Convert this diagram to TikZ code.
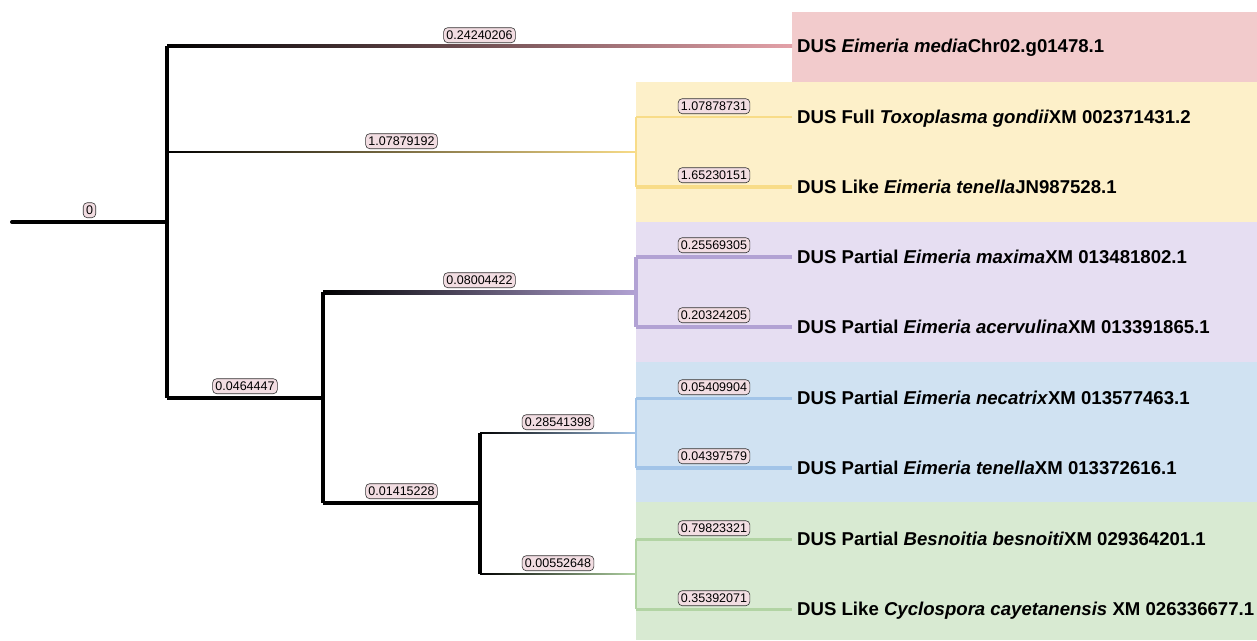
\documentclass[tikz,border=0pt]{standalone}
\usepackage{fontspec}
\setmainfont{Liberation Sans}
\usetikzlibrary{positioning,calc}

\definecolor{medbg}{HTML}{F2CBCC}
\definecolor{medline}{HTML}{E3A1A8}
\definecolor{toxbg}{HTML}{FDF0C9}
\definecolor{toxline}{HTML}{F8DC88}
\definecolor{maxbg}{HTML}{E6DEF2}
\definecolor{maxline}{HTML}{B2A2D4}
\definecolor{necbg}{HTML}{D0E2F2}
\definecolor{necline}{HTML}{A2C4E8}
\definecolor{besbg}{HTML}{D8EAD2}
\definecolor{besline}{HTML}{B2D4A4}
\definecolor{labfill}{HTML}{F2DDE2}

\tikzset{
  thickbr/.style={line width=4pt, black},
  brlabel/.style={draw=black!80, fill=labfill, text=black, line width=0.6pt,
    rounded corners=4pt, inner xsep=2.8pt, inner ysep=3pt,
    text height=9pt, text depth=0pt,
    font=\fontsize{12.5}{13}\selectfont, above=#1},
  brlabel/.default=3pt,
  leaflabel/.style={anchor=west, inner sep=5pt, text=black,
    text height=12.9pt, text depth=0pt,
    font=\fontsize{18.6}{20}\selectfont\bfseries},
}

\begin{document}
\begin{tikzpicture}[x=1pt, y=-1pt]
    \useasboundingbox (0,0) rectangle (1257,640);

    % Draw clade backgrounds
    \fill[medbg] (792,12) rectangle (1257,82);
    \fill[toxbg] (636,82) rectangle (1257,222);
    \fill[maxbg] (636,222) rectangle (1257,362);
    \fill[necbg] (636,362) rectangle (1257,502);
    \fill[besbg] (636,502) rectangle (1257,640);

    % Internal nodes
    \coordinate (root) at (12,222);
    \coordinate (nA) at (167,222);
    \coordinate (nB) at (323,398);
    \coordinate (nC) at (480,503);
    \coordinate (nTox) at (636,152);
    \coordinate (nMax) at (636,292);
    \coordinate (nNec) at (636,433);
    \coordinate (nBes) at (636,574);

    % Leaf tips
    \coordinate (lMed) at (792,46);
    \coordinate (lTox) at (792,117);
    \coordinate (lTen) at (792,187);
    \coordinate (lMax) at (792,257);
    \coordinate (lAce) at (792,327);
    \coordinate (lNec) at (792,398);
    \coordinate (lTnl) at (792,468);
    \coordinate (lBes) at (792,539);
    \coordinate (lCyc) at (792,609);

    % Draw backbone
    \draw[thickbr, line cap=round] (root) -- (nA);
    \draw[thickbr] (nA|-lMed) -- (nA|-nB);
    \draw[thickbr] (nA|-nB) -- (nB);
    \draw[thickbr] (nB|-nMax) -- (nB|-nC);
    \draw[thickbr] (nB|-nC) -- (nC);
    \draw[line width=3.5pt] (nC|-nNec) -- (nC|-nBes);

    % Draw fading branches into the clades
    \shade[left color=black, middle color=medline!40!black, right color=medline]
      ($(nA|-lMed)+(0,-1.1)$) rectangle ($(lMed)+(0,1.1)$);
    \shade[left color=black, middle color=toxline!40!black, right color=toxline]
      ($(nA|-nTox)+(0,-0.9)$) rectangle ($(nTox)+(0,0.9)$);
    \shade[left color=black, middle color=maxline!40!black, right color=maxline]
      ($(nB|-nMax)+(0,-2)$) rectangle ($(nMax)+(0,2)$);
    \shade[left color=black, middle color=necline!40!black, right color=necline]
      ($(nC|-nNec)+(0,-0.9)$) rectangle ($(nNec)+(0,0.9)$);
    \shade[left color=black, middle color=besline!40!black, right color=besline]
      ($(nC|-nBes)+(0,-0.9)$) rectangle ($(nBes)+(0,0.9)$);

    % Draw clade branches
    \draw[toxline, line width=2pt] (nTox|-lTox) -- (nTox|-lTen);
    \draw[toxline, line width=2pt] (nTox|-lTox) -- (lTox);
    \draw[toxline, line width=4pt] (nTox|-lTen) -- (lTen);
    \draw[maxline, line width=4pt] (nMax|-lMax) -- (nMax|-lAce);
    \draw[maxline, line width=4pt] (nMax|-lMax) -- (lMax);
    \draw[maxline, line width=4pt] (nMax|-lAce) -- (lAce);
    \draw[necline, line width=2.5pt] (nNec|-lNec) -- (nNec|-lTnl);
    \draw[necline, line width=3pt] (nNec|-lNec) -- (lNec);
    \draw[necline, line width=4pt] (nNec|-lTnl) -- (lTnl);
    \draw[besline, line width=2pt] (nBes|-lBes) -- (nBes|-lCyc);
    \draw[besline, line width=3pt] (nBes|-lBes) -- (lBes);
    \draw[besline, line width=3pt] (nBes|-lCyc) -- (lCyc);

    % Branch length labels
    \path (root) -- (nA) node[midway, brlabel=4pt] {0};
    \path (nA|-lMed) -- (lMed) node[midway, brlabel] {0.24240206};
    \path (nA|-nTox) -- (nTox) node[midway, brlabel] {1.07879192};
    \path (nA|-nB) -- (nB) node[midway, brlabel=4pt] {0.0464447};
    \path (nB|-nMax) -- (nMax) node[midway, brlabel=4pt] {0.08004422};
    \path (nB|-nC) -- (nC) node[midway, brlabel=4pt] {0.01415228};
    \path (nC|-nNec) -- (nNec) node[midway, brlabel] {0.28541398};
    \path (nC|-nBes) -- (nBes) node[midway, brlabel] {0.00552648};
    \path (nTox|-lTox) -- (lTox) node[midway, brlabel] {1.07878731};
    \path (nTox|-lTen) -- (lTen) node[midway, brlabel=4pt] {1.65230151};
    \path (nMax|-lMax) -- (lMax) node[midway, brlabel=4pt] {0.25569305};
    \path (nMax|-lAce) -- (lAce) node[midway, brlabel=4pt] {0.20324205};
    \path (nNec|-lNec) -- (lNec) node[midway, brlabel] {0.05409904};
    \path (nNec|-lTnl) -- (lTnl) node[midway, brlabel=4pt] {0.04397579};
    \path (nBes|-lBes) -- (lBes) node[midway, brlabel] {0.79823321};
    \path (nBes|-lCyc) -- (lCyc) node[midway, brlabel] {0.35392071};

    % Leaf names
    \node[leaflabel] (tMed) at (lMed) {DUS \textit{Eimeria media}Chr02.g01478.1};
    \node[leaflabel] (tTox) at (lTox) {DUS Full \textit{Toxoplasma gondii}XM 002371431.2};
    \node[leaflabel] (tTen) at (lTen) {DUS Like \textit{Eimeria tenella}JN987528.1};
    \node[leaflabel] (tMax) at (lMax) {DUS Partial \textit{Eimeria maxima}XM 013481802.1};
    \node[leaflabel] (tAce) at (lAce) {DUS Partial \textit{Eimeria acervulina}XM 013391865.1};
    \node[leaflabel] (tNec) at (lNec) {DUS Partial \textit{Eimeria necatrix}XM 013577463.1};
    \node[leaflabel] (tTnl) at (lTnl) {DUS Partial \textit{Eimeria tenella}XM 013372616.1};
    \node[leaflabel] (tBes) at (lBes) {DUS Partial \textit{Besnoitia besnoiti}XM 029364201.1};
    \node[leaflabel] (tCyc) at (lCyc) {DUS Like \textit{Cyclospora cayetanensis} XM 026336677.1};

\end{tikzpicture}
\end{document}
